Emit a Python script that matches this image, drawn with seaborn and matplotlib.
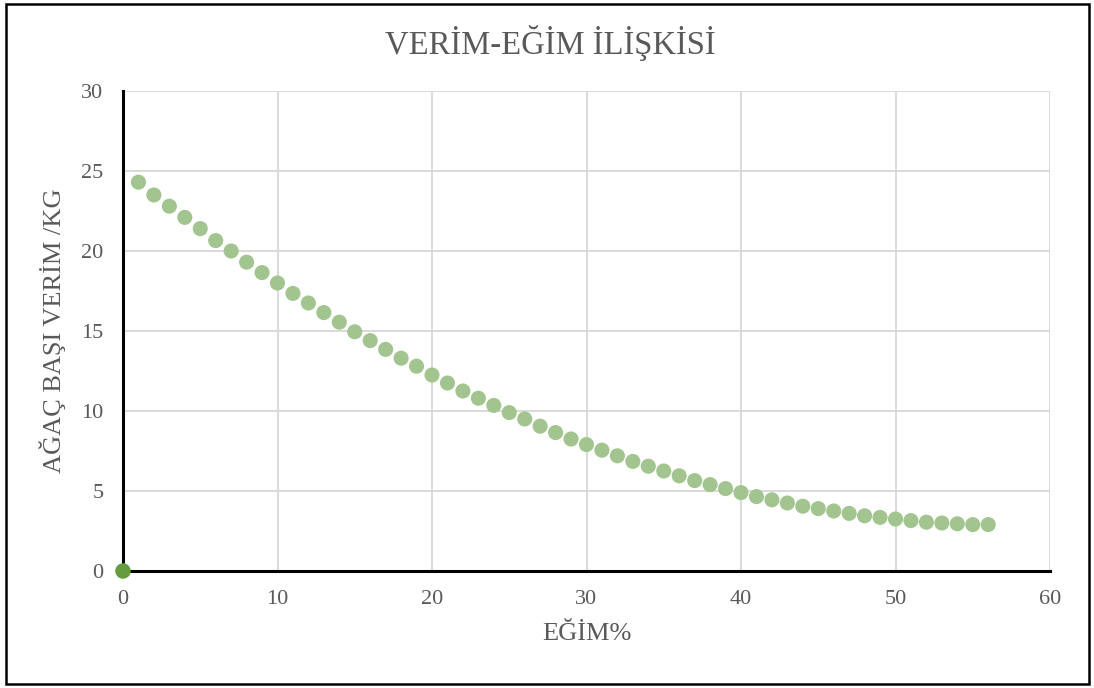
import matplotlib
matplotlib.use("Agg")
import matplotlib.pyplot as plt
import seaborn as sns
import pandas as pd
from matplotlib.patches import Rectangle

# Slope (%) and yield per tree (kg)
egim = list(range(1, 57))
verim = [24.3, 23.5, 22.8, 22.1, 21.4, 20.65, 20.0, 19.3, 18.65, 18.0,
         17.35, 16.75, 16.15, 15.55, 14.95, 14.4, 13.85, 13.3, 12.8, 12.25,
         11.75, 11.25, 10.8, 10.35, 9.9, 9.5, 9.05, 8.65, 8.25, 7.9,
         7.55, 7.2, 6.85, 6.55, 6.25, 5.95, 5.65, 5.4, 5.15, 4.9,
         4.65, 4.45, 4.25, 4.05, 3.9, 3.75, 3.6, 3.45, 3.35, 3.25,
         3.15, 3.05, 3.0, 2.95, 2.9, 2.9]
baslangic_x = [0]
baslangic_y = [0]

title = "VERİM-EĞİM İLİŞKİSİ"
xlabel = "EĞİM%"
ylabel = "AĞAÇ BAŞI VERİM /KG"
xticks = [0, 10, 20, 30, 40, 50, 60]
yticks = [0, 5, 10, 15, 20, 25, 30]

sns.set_style("white")
plt.rcParams["font.family"] = ["Liberation Serif", "DejaVu Serif"]

text_color = "#595959"

df = pd.DataFrame({"egim": egim, "verim": verim})
df0 = pd.DataFrame({"egim": baslangic_x, "verim": baslangic_y})

fig = plt.figure(figsize=(10.94, 6.88), dpi=100)
ax = fig.add_axes([123 / 1094, 117 / 688, 927 / 1094, 480 / 688])

sns.scatterplot(data=df, x="egim", y="verim", ax=ax, s=118,
                color="#a2c590", edgecolor="none", linewidth=0, zorder=3)
sns.scatterplot(data=df0, x="egim", y="verim", ax=ax, s=125,
                color="#679b3f", edgecolor="none", linewidth=0, zorder=5,
                clip_on=False)

ax.set_xlim(0, 60)
ax.set_ylim(0, 30)
ax.set_xticks(xticks)
ax.set_yticks(yticks)
ax.grid(True, color="#d9d9d9", linewidth=1.4, zorder=0)
ax.set_axisbelow(True)

for side in ("top", "right"):
    ax.spines[side].set_visible(False)
for side in ("left", "bottom"):
    ax.spines[side].set_color("black")
    ax.spines[side].set_linewidth(2.2)
    ax.spines[side].set_zorder(4)

ax.tick_params(axis="both", length=0, labelsize=16, labelcolor=text_color)
ax.tick_params(axis="y", pad=14)
ax.tick_params(axis="x", pad=14)

ax.set_xlabel(xlabel, fontsize=19, color=text_color, labelpad=10)
ax.set_ylabel(ylabel, fontsize=19, color=text_color, labelpad=11)
fig.text(0.5 * (388 + 713) / 1094, 1 - 43 / 688, title, fontsize=23.5,
         color=text_color, ha="center", va="center")

# Outer frame around the chart
fig.patches.append(Rectangle((6 / 1094, 4 / 688), 1083 / 1094, 680 / 688,
                             transform=fig.transFigure, fill=False,
                             edgecolor="black", linewidth=1.8))

fig.savefig("out.png", dpi=100)
